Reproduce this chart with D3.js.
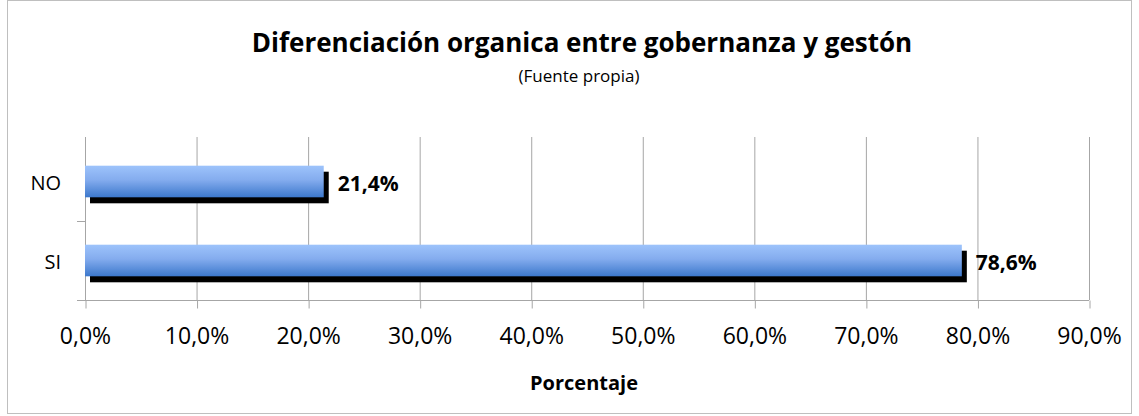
<!DOCTYPE html>
<html>
<head>
<meta charset="utf-8">
<script src="https://cdn.jsdelivr.net/npm/d3@7"></script>
<style>
  body { margin: 0; background: #fff; }
  svg text { font-family: "Open Sans", sans-serif; }
</style>
</head>
<body>
<div id="chart"></div>
<script>
var categories = ["NO", "SI"];
var values = [21.4, 78.6];
var tickValues = [0, 10, 20, 30, 40, 50, 60, 70, 80, 90];
var titleText = "Diferenciación organica entre gobernanza y gestón";
var subtitleText = "(Fuente propia)";
var axisTitle = "Porcentaje";

var W = 1139, H = 416;
var margin = { top: 142, left: 85 },
    width = 1089 - margin.left,
    height = 300 - margin.top;

var fmt = function(v) { return v.toFixed(1).replace(".", ",") + "%"; };

var svg = d3.select("#chart").append("svg")
    .attr("width", W).attr("height", H);

svg.append("rect")
    .attr("x", 7.5).attr("y", 0.5)
    .attr("width", 1124).attr("height", 413)
    .attr("fill", "#fff").attr("stroke", "#bfbfbf");

var defs = svg.append("defs");
var grad = defs.append("linearGradient")
    .attr("id", "barGrad").attr("x1", 0).attr("y1", 0).attr("x2", 0).attr("y2", 1);
grad.append("stop").attr("offset", "0%").attr("stop-color", "#9dc3fb");
grad.append("stop").attr("offset", "45%").attr("stop-color", "#84acee");
grad.append("stop").attr("offset", "100%").attr("stop-color", "#3c78cc");

svg.append("text")
    .attr("x", 582).attr("y", 52)
    .attr("text-anchor", "middle")
    .style("font-weight", "bold").style("font-size", "26px")
    .text(titleText);
svg.append("text")
    .attr("x", 579).attr("y", 82)
    .attr("text-anchor", "middle")
    .style("font-size", "17px")
    .text(subtitleText);

var g = svg.append("g")
    .attr("transform", "translate(" + margin.left + "," + margin.top + ")");

var x = d3.scaleLinear().domain([0, 90]).range([0, width]);
var y = d3.scaleBand().domain(categories).range([0, height]).paddingInner(0.6).paddingOuter(0.3);
var yb = d3.scaleBand().domain(categories).range([0, height]);

// gridlines
g.selectAll(".grid").data(tickValues.slice(1)).enter().append("line")
    .attr("x1", function(d) { return x(d) + 0.5; })
    .attr("x2", function(d) { return x(d) + 0.5; })
    .attr("y1", -5).attr("y2", height)
    .attr("stroke", "#a6a6a6");

// x axis
var xAxis = g.append("g")
    .attr("transform", "translate(0," + (height + 0.5) + ")")
    .call(d3.axisBottom(x).tickValues(tickValues).tickFormat(fmt).tickSize(8).tickSizeOuter(0));
xAxis.attr("font-family", null);
xAxis.select(".domain").attr("stroke", "#a6a6a6").attr("d", "M-8,0H" + width);
xAxis.selectAll(".tick line").attr("stroke", "#a6a6a6").attr("transform", "translate(0.5,0)");
xAxis.selectAll("text").attr("dy", 0).attr("y", 43)
    .style("font-size", "23px").attr("fill", "#000");

// y axis line + ticks at band boundaries
g.append("line").attr("x1", 0.5).attr("x2", 0.5).attr("y1", -5).attr("y2", height)
    .attr("stroke", "#a6a6a6");
g.selectAll(".ytick").data(categories.slice(1)).enter().append("line")
    .attr("x1", -8).attr("x2", 0)
    .attr("y1", function(d) { return yb(d) + 0.5; })
    .attr("y2", function(d) { return yb(d) + 0.5; })
    .attr("stroke", "#a6a6a6");
g.selectAll(".ylab").data(categories).enter().append("text")
    .attr("x", -24)
    .attr("y", function(d) { return yb(d) + yb.bandwidth() / 2 + 8; })
    .attr("text-anchor", "end")
    .style("font-size", "20px")
    .text(function(d) { return d; });

var data = categories.map(function(c, i) { return { name: c, value: values[i] }; });

// shadow
g.selectAll(".shadow").data(data).enter().append("rect")
    .attr("x", 5)
    .attr("y", function(d) { return y(d.name) + 6; })
    .attr("width", function(d) { return x(d.value); })
    .attr("height", y.bandwidth())
    .attr("fill", "#000");

g.selectAll(".bar").data(data).enter().append("rect")
    .attr("x", 0)
    .attr("y", function(d) { return y(d.name); })
    .attr("width", function(d) { return x(d.value); })
    .attr("height", y.bandwidth())
    .attr("fill", "url(#barGrad)");

g.selectAll(".val").data(data).enter().append("text")
    .attr("x", function(d) { return x(d.value) + 14; })
    .attr("y", function(d) { return y(d.name) + y.bandwidth() / 2 + 9; })
    .style("font-weight", "bold").style("font-size", "21px")
    .text(function(d) { return fmt(d.value); });

svg.append("text")
    .attr("x", 584).attr("y", 390)
    .attr("text-anchor", "middle")
    .style("font-weight", "bold").style("font-size", "20px")
    .text(axisTitle);
</script>
</body>
</html>
